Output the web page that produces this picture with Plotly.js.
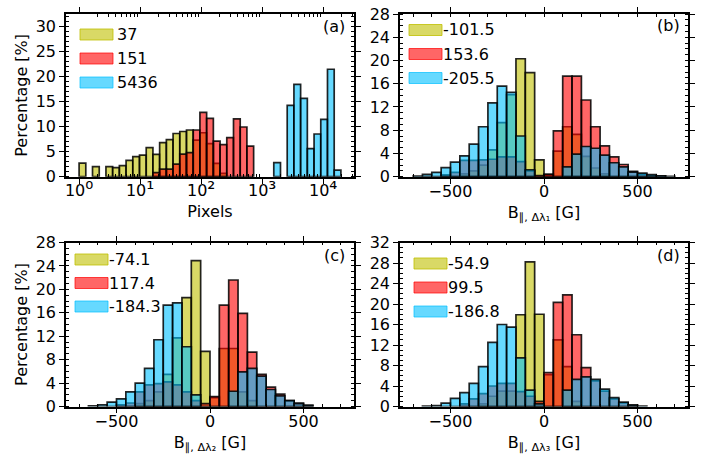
<!DOCTYPE html>
<html>
<head>
<meta charset="utf-8">
<script src="https://cdn.plot.ly/plotly-3.0.1.min.js"></script>
<style>
  html, body { margin: 0; padding: 0; background: #fff; }
  #chart { width: 713px; height: 455px; }
</style>
</head>
<body>
<div id="chart"></div>
<script>
// ---- (a) feature size histogram: logarithmic pixel bins -----------------
const sizeBinStep = 0.11;          // width of one size bin in decades
const sizeSmall  = [2.7,0,2.0,0,2.0,1.8,2.2,3.25,4.0,4.3,5.8,4.45,6.8,7.4,8.6,9.0,9.3,7.3,8.75,6.6,2.65,0.66,0,0,0,0,0,0,0,0,0,0,0,0,0,0,0,0,0];
const sizeMedium = [0,0,0,0,0,0,0,0,0,0,0,0.8,1.5,1.5,2.5,4.5,4.8,9.3,12.8,11.6,7.1,6.4,7.8,11.5,9.9,6.1,0,0,0,0,0,0,0,0,0,0,0,0,0];
const sizeLarge  = [0,0,0,0,0,0,0,0,0,0,0,0,0,0,0,0,0,0,0,0,0,0,0,0,0,0,0,0,0,2.8,0,14.2,18.4,15.6,5.6,8.5,11.4,21.4,1.3];
const sizeTickVals = [1, 10, 100, 1000, 10000];
const sizeTickExp  = ['\u2070', '\u00b9', '\u00b2', '\u00b3', '\u2074'];
const legendA = ['37', '151', '5436'];

// ---- (b)-(d) field histograms: 50 G bins from -700 to 700 ----------------
const fieldBinLeft = [-700,-650,-600,-550,-500,-450,-400,-350,-300,-250,-200,-150,-100,-50,
                      0,50,100,150,200,250,300,350,400,450,500,550,600,650];
const fieldBinWidth = 50;

const fieldSmall1  = [0,0,0,0,0,0.5,1.0,2.0,4.6,9.3,14.1,20.3,17.9,2.9,0.3,4.4,8.6,7.3,3.5,1.5,0.5,0,0,0,0,0,0,0];
const fieldMedium1 = [0,0,0,0.3,0.75,2.8,2.8,2.9,3.0,3.4,3.4,2.6,1.0,0.2,0.45,7.9,17.3,17.3,13.2,8.6,5.3,3.4,2.1,0.9,0.4,0.2,0.1,0];
const fieldLarge1  = [0.1,0.4,0.75,1.55,2.5,3.6,5.6,8.6,12.7,15.6,14.5,7.0,1.2,0,0,0,1.7,3.9,5.2,4.9,3.7,2.4,1.7,0.8,0.6,0.35,0.15,0.05];
const legendB = ['-101.5', '153.6', '-205.5'];

const fieldSmall2  = [0,0,0,0,0,0,0.5,1.0,2.5,5.5,11.7,18.6,24.9,9.4,1.5,9.9,9.9,2.5,1.0,0,0,0,0,0,0,0,0,0];
const fieldMedium2 = [0,0,0,0,0.3,0.6,2.5,3.7,3.9,4.2,3.7,2.5,1.0,0.5,1.7,17.3,21.6,15.9,9.3,5.5,3.3,2.1,1.0,0.6,0.2,0,0,0];
const fieldLarge2  = [0,0.1,0.3,0.75,1.3,2.5,4.0,6.5,11.4,17.3,17.7,10.2,2.0,0,0,0,2.6,5.9,6.5,5.2,2.9,1.8,1.0,0.5,0.2,0,0,0];
const legendC = ['-74.1', '117.4', '-184.3'];

const fieldSmall3  = [0,0,0,0,0,0,0,0.5,2.0,3.0,3.0,17.9,28.2,18.0,6.2,13.0,7.8,1.0,0,0,0,0,0,0,0,0,0,0];
const fieldMedium3 = [0,0,0,0,0,0.5,1.5,2.5,4.0,4.5,4.5,2.9,2.0,1.0,6.6,20.3,21.8,14.0,7.6,5.0,3.0,1.5,0.7,0.2,0,0,0,0];
const fieldLarge3  = [0,0.1,0.2,0.65,1.6,2.7,4.5,7.8,12.5,16.0,15.5,9.5,3.2,0.5,0,0,3.2,5.3,5.8,5.3,3.4,1.75,0.85,0.3,0.1,0,0,0];
const legendD = ['-54.9', '99.5', '-186.8'];

const panelLetters = ['(a)', '(b)', '(c)', '(d)'];

// ---- styling ---------------------------------------------------------------
const W = 713, H = 455;
const FONT = { family: 'DejaVu Sans', size: 16, color: '#000' };
const COLORS = ['rgba(191,191,0,0.6)', 'rgba(255,0,0,0.6)', 'rgba(0,191,255,0.6)'];
const PATCH_LINE = ['rgba(191,191,0,0.8)', 'rgba(255,0,0,0.7)', 'rgba(0,191,255,0.7)'];
const EDGE = { color: 'rgba(0,0,0,0.85)', width: 1.7 };

// decade labels: "10" followed by an enlarged superscript digit
const sizeTickText = sizeTickExp.map(e => '10<span style="font-size:20px">' + e + '</span>');

// size-bin geometry on the log axis: each bar spans [10^(k*step), 10^((k+1)*step)]
const sizeX = [], sizeW = [];
for (let k = 0; k < sizeSmall.length; k++) {
  const lo = Math.pow(10, k * sizeBinStep), hi = Math.pow(10, (k + 1) * sizeBinStep);
  sizeX.push((lo + hi) / 2);
  sizeW.push(hi - lo);
}
const fieldX = fieldBinLeft.map(v => v + fieldBinWidth / 2);

function hist(x, width, values, color, name, xa, ya) {
  return {
    type: 'bar', x: x, y: values.map(v => (v > 0 ? v : null)), width: width,
    xaxis: xa, yaxis: ya, name: name, showlegend: false, hoverinfo: 'skip',
    marker: { color: color, line: EDGE }
  };
}

const traces = [
  hist(sizeX, sizeW, sizeSmall,  COLORS[0], 'small',  'x',  'y'),
  hist(sizeX, sizeW, sizeMedium, COLORS[1], 'medium', 'x',  'y'),
  hist(sizeX, sizeW, sizeLarge,  COLORS[2], 'large',  'x',  'y'),
  hist(fieldX, fieldBinWidth, fieldSmall1,  COLORS[0], 'small',  'x2', 'y2'),
  hist(fieldX, fieldBinWidth, fieldMedium1, COLORS[1], 'medium', 'x2', 'y2'),
  hist(fieldX, fieldBinWidth, fieldLarge1,  COLORS[2], 'large',  'x2', 'y2'),
  hist(fieldX, fieldBinWidth, fieldSmall2,  COLORS[0], 'small',  'x3', 'y3'),
  hist(fieldX, fieldBinWidth, fieldMedium2, COLORS[1], 'medium', 'x3', 'y3'),
  hist(fieldX, fieldBinWidth, fieldLarge2,  COLORS[2], 'large',  'x3', 'y3'),
  hist(fieldX, fieldBinWidth, fieldSmall3,  COLORS[0], 'small',  'x4', 'y4'),
  hist(fieldX, fieldBinWidth, fieldMedium3, COLORS[1], 'medium', 'x4', 'y4'),
  hist(fieldX, fieldBinWidth, fieldLarge3,  COLORS[2], 'large',  'x4', 'y4')
];

function axis(extra) {
  return Object.assign({
    showline: true, linecolor: '#000', linewidth: 1.6, mirror: 'allticks',
    ticks: 'outside', ticklen: 5, tickwidth: 1.3, tickcolor: '#000',
    showgrid: false, zeroline: false, tickfont: FONT, fixedrange: true
  }, extra);
}
function minor(step) {
  return { ticks: 'inside', ticklen: 3, tickwidth: 1, tickcolor: '#000', dtick: step, showgrid: false };
}

const sizeMinor = [];
for (let d = 1; d <= 10000; d *= 10) for (let m = 2; m <= 9; m++) sizeMinor.push(m * d);

const colL = [66 / W, 354 / W], colR = [400 / W, 688 / W];
const rowT = [1 - 176.7 / H, 1 - 14 / H], rowB = [1 - 406.5 / H, 1 - 242.5 / H];

function fieldTitle(n) {
  return { text: 'B<sub>\u2225, \u0394\u03bb' + n + '</sub> [G]', font: FONT, standoff: 7 };
}

const XLAB = -6;   // pulls the x tick labels up toward the frame

const layout = {
  width: W, height: H, autosize: false,
  margin: { l: 0, r: 0, t: 0, b: 0, pad: 0 },
  paper_bgcolor: '#fff', plot_bgcolor: '#fff',
  barmode: 'overlay', font: FONT, showlegend: false,
  xaxis: axis({ domain: colL, anchor: 'y', type: 'log', range: [-0.2145, 4.5045],
    tickmode: 'array', tickvals: sizeTickVals, ticktext: sizeTickText, ticklabelstandoff: -7,
    minor: { ticks: 'inside', ticklen: 3, tickwidth: 1, tickcolor: '#000', tickmode: 'array', tickvals: sizeMinor, showgrid: false },
    title: { text: 'Pixels', font: FONT, standoff: 6 } }),
  yaxis: axis({ domain: rowT, anchor: 'x', range: [0, 32.4], dtick: 5, minor: minor(1),
    title: { text: 'Percentage [%]', font: FONT, standoff: 4 } }),
  xaxis2: axis({ domain: colR, anchor: 'y2', range: [-770, 770], dtick: 500, minor: minor(100),
    ticklabelstandoff: XLAB, title: fieldTitle('\u2081') }),
  yaxis2: axis({ domain: rowT, anchor: 'x2', range: [0, 28], dtick: 4, minor: minor(1) }),
  xaxis3: axis({ domain: colL, anchor: 'y3', range: [-770, 770], dtick: 500, minor: minor(100),
    ticklabelstandoff: XLAB, title: fieldTitle('\u2082') }),
  yaxis3: axis({ domain: rowB, anchor: 'x3', range: [0, 28], dtick: 4, minor: minor(1),
    title: { text: 'Percentage [%]', font: FONT, standoff: 4 } }),
  xaxis4: axis({ domain: colR, anchor: 'y4', range: [-770, 770], dtick: 500, minor: minor(100),
    ticklabelstandoff: XLAB, title: fieldTitle('\u2083') }),
  yaxis4: axis({ domain: rowB, anchor: 'x4', range: [0, 32], dtick: 4, minor: minor(1) }),
  shapes: [], annotations: []
};

// panel letters, right-aligned inside each frame
[[347, 26], [682, 25], [347, 255], [682, 255]].forEach(([px, py], i) => {
  layout.annotations.push({ text: panelLetters[i], xref: 'paper', yref: 'paper', x: px / W, y: 1 - py / H,
    xanchor: 'right', yanchor: 'middle', showarrow: false, font: FONT });
});

// legends: colour patch + label per class (page pixels)
const legendBlocks = [
  { labels: legendA, patchLeft: 80,  labelLeft: 115, rows: [34.5, 58.5, 82.5] },
  { labels: legendB, patchLeft: 409, labelLeft: 441, rows: [30, 54, 78] },
  { labels: legendC, patchLeft: 75,  labelLeft: 107, rows: [259.5, 283, 306.5] },
  { labels: legendD, patchLeft: 414, labelLeft: 446, rows: [263.5, 287.5, 311.5] }
];
legendBlocks.forEach(b => {
  b.labels.forEach((t, i) => {
    layout.shapes.push({ type: 'rect', xref: 'paper', yref: 'paper',
      x0: b.patchLeft / W, x1: (b.patchLeft + 33) / W,
      y0: 1 - (b.rows[i] + 5.5) / H, y1: 1 - (b.rows[i] - 5.5) / H,
      fillcolor: COLORS[i], line: { color: PATCH_LINE[i], width: 1 } });
    layout.annotations.push({ text: t, xref: 'paper', yref: 'paper', x: b.labelLeft / W, y: 1 - b.rows[i] / H,
      xanchor: 'left', yanchor: 'middle', showarrow: false, font: FONT });
  });
});

Plotly.newPlot('chart', traces, layout, { displayModeBar: false });
</script>
</body>
</html>
